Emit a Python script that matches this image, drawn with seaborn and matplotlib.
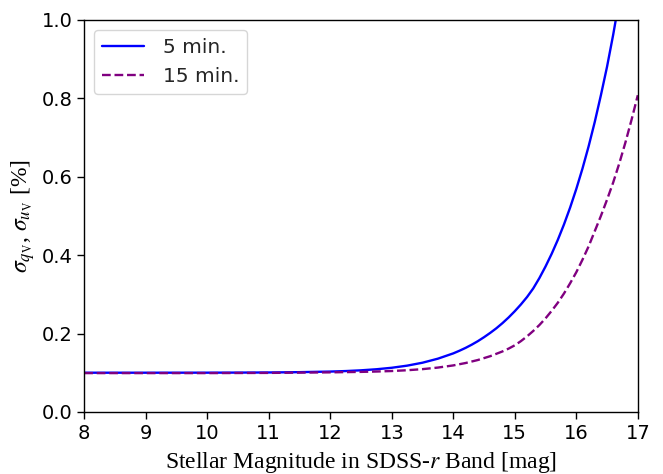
import matplotlib
matplotlib.use("Agg")
import matplotlib.pyplot as plt
import seaborn as sns
import pandas as pd

# 5-minute exposure: magnitude vs. polarization error [%]
mag_5 = [8, 9, 10, 10.5, 11, 11.5, 12, 12.25, 12.5, 12.75, 13, 13.25, 13.5, 13.75,
         14.0, 14.1, 14.2, 14.3, 14.4, 14.5, 14.6, 14.7, 14.8, 14.9,
         15.0, 15.1, 15.2, 15.3, 15.4, 15.5, 15.6, 15.7, 15.8, 15.9,
         16.0, 16.1, 16.2, 16.3, 16.4, 16.5, 16.6, 16.7]
sig_5 = [0.100, 0.100, 0.1001, 0.1003, 0.1006, 0.1014, 0.1029, 0.1042, 0.1061, 0.1088,
         0.1126, 0.1180, 0.1255, 0.1358,
         0.1493, 0.1560, 0.1633, 0.1715, 0.1805, 0.1906, 0.2015, 0.2133, 0.2265, 0.2410,
         0.2569, 0.2742, 0.2932, 0.3150, 0.3414, 0.3710, 0.4034, 0.4391, 0.4783, 0.5214,
         0.5687, 0.6205, 0.6773, 0.7396, 0.8079, 0.8807, 0.9624, 1.052]

# 15-minute exposure
mag_15 = [8, 9, 10, 11, 12, 12.5, 12.75, 13, 13.25, 13.5, 13.75,
          14.0, 14.2, 14.4, 14.6, 14.8, 14.9,
          15.0, 15.1, 15.2, 15.3, 15.4, 15.5, 15.6, 15.7, 15.8, 15.9,
          16.0, 16.1, 16.2, 16.3, 16.4, 16.5, 16.6, 16.7, 16.8, 16.9, 17.0]
sig_15 = [0.099, 0.099, 0.099, 0.0995, 0.1009, 0.1021, 0.1030, 0.1043, 0.1063, 0.1091, 0.1131,
          0.1186, 0.1247, 0.1324, 0.1421, 0.1543, 0.1615,
          0.1699, 0.1806, 0.1928, 0.2065, 0.2216, 0.2387, 0.2579, 0.2786, 0.3021, 0.3282,
          0.3563, 0.3881, 0.4222, 0.4610, 0.4999, 0.5415, 0.5854, 0.6345, 0.6881, 0.7463, 0.8079]

labels = ["5 min.", "15 min."]

sns.set_style("ticks")
plt.rcParams["font.family"] = ["DejaVu Sans"]

fig = plt.figure(figsize=(6.63, 4.74), dpi=100)
ax = fig.add_axes([0.127, 0.131, 0.835, 0.827])

df5 = pd.DataFrame({"mag": mag_5, "sig": sig_5})
df15 = pd.DataFrame({"mag": mag_15, "sig": sig_15})
sns.lineplot(data=df5, x="mag", y="sig", ax=ax, color="blue", lw=1.7, label=labels[0])
sns.lineplot(data=df15, x="mag", y="sig", ax=ax, color="purple", lw=1.7,
             linestyle="--", label=labels[1])

ax.set_xlim(8, 17)
ax.set_ylim(0, 1.0)
ax.set_xticks(range(8, 18))
ax.set_yticks([0.0, 0.2, 0.4, 0.6, 0.8, 1.0])
ax.tick_params(labelsize=14, direction="out", length=5, width=1.0,
               color="black", labelcolor="black")
for s in ax.spines.values():
    s.set_color("black")
    s.set_linewidth(1.0)

ax.set_xlabel(r"Stellar Magnitude in SDSS-$r$ Band [mag]", fontsize=17,
              fontfamily="Liberation Serif", math_fontfamily="stix", color="black",
              labelpad=5)
ax.set_ylabel(r"$\sigma_{q_{\rm V}}$, $\sigma_{u_{\rm V}}$ [%]", fontsize=17,
              fontfamily="Liberation Serif", math_fontfamily="stix", color="black",
              labelpad=3)

leg = ax.legend(loc="upper left", fontsize=14.5, frameon=True, fancybox=True,
                handlelength=2.05, handletextpad=0.95)
leg.get_frame().set_edgecolor("#cccccc")

fig.savefig("out.png", dpi=100)
